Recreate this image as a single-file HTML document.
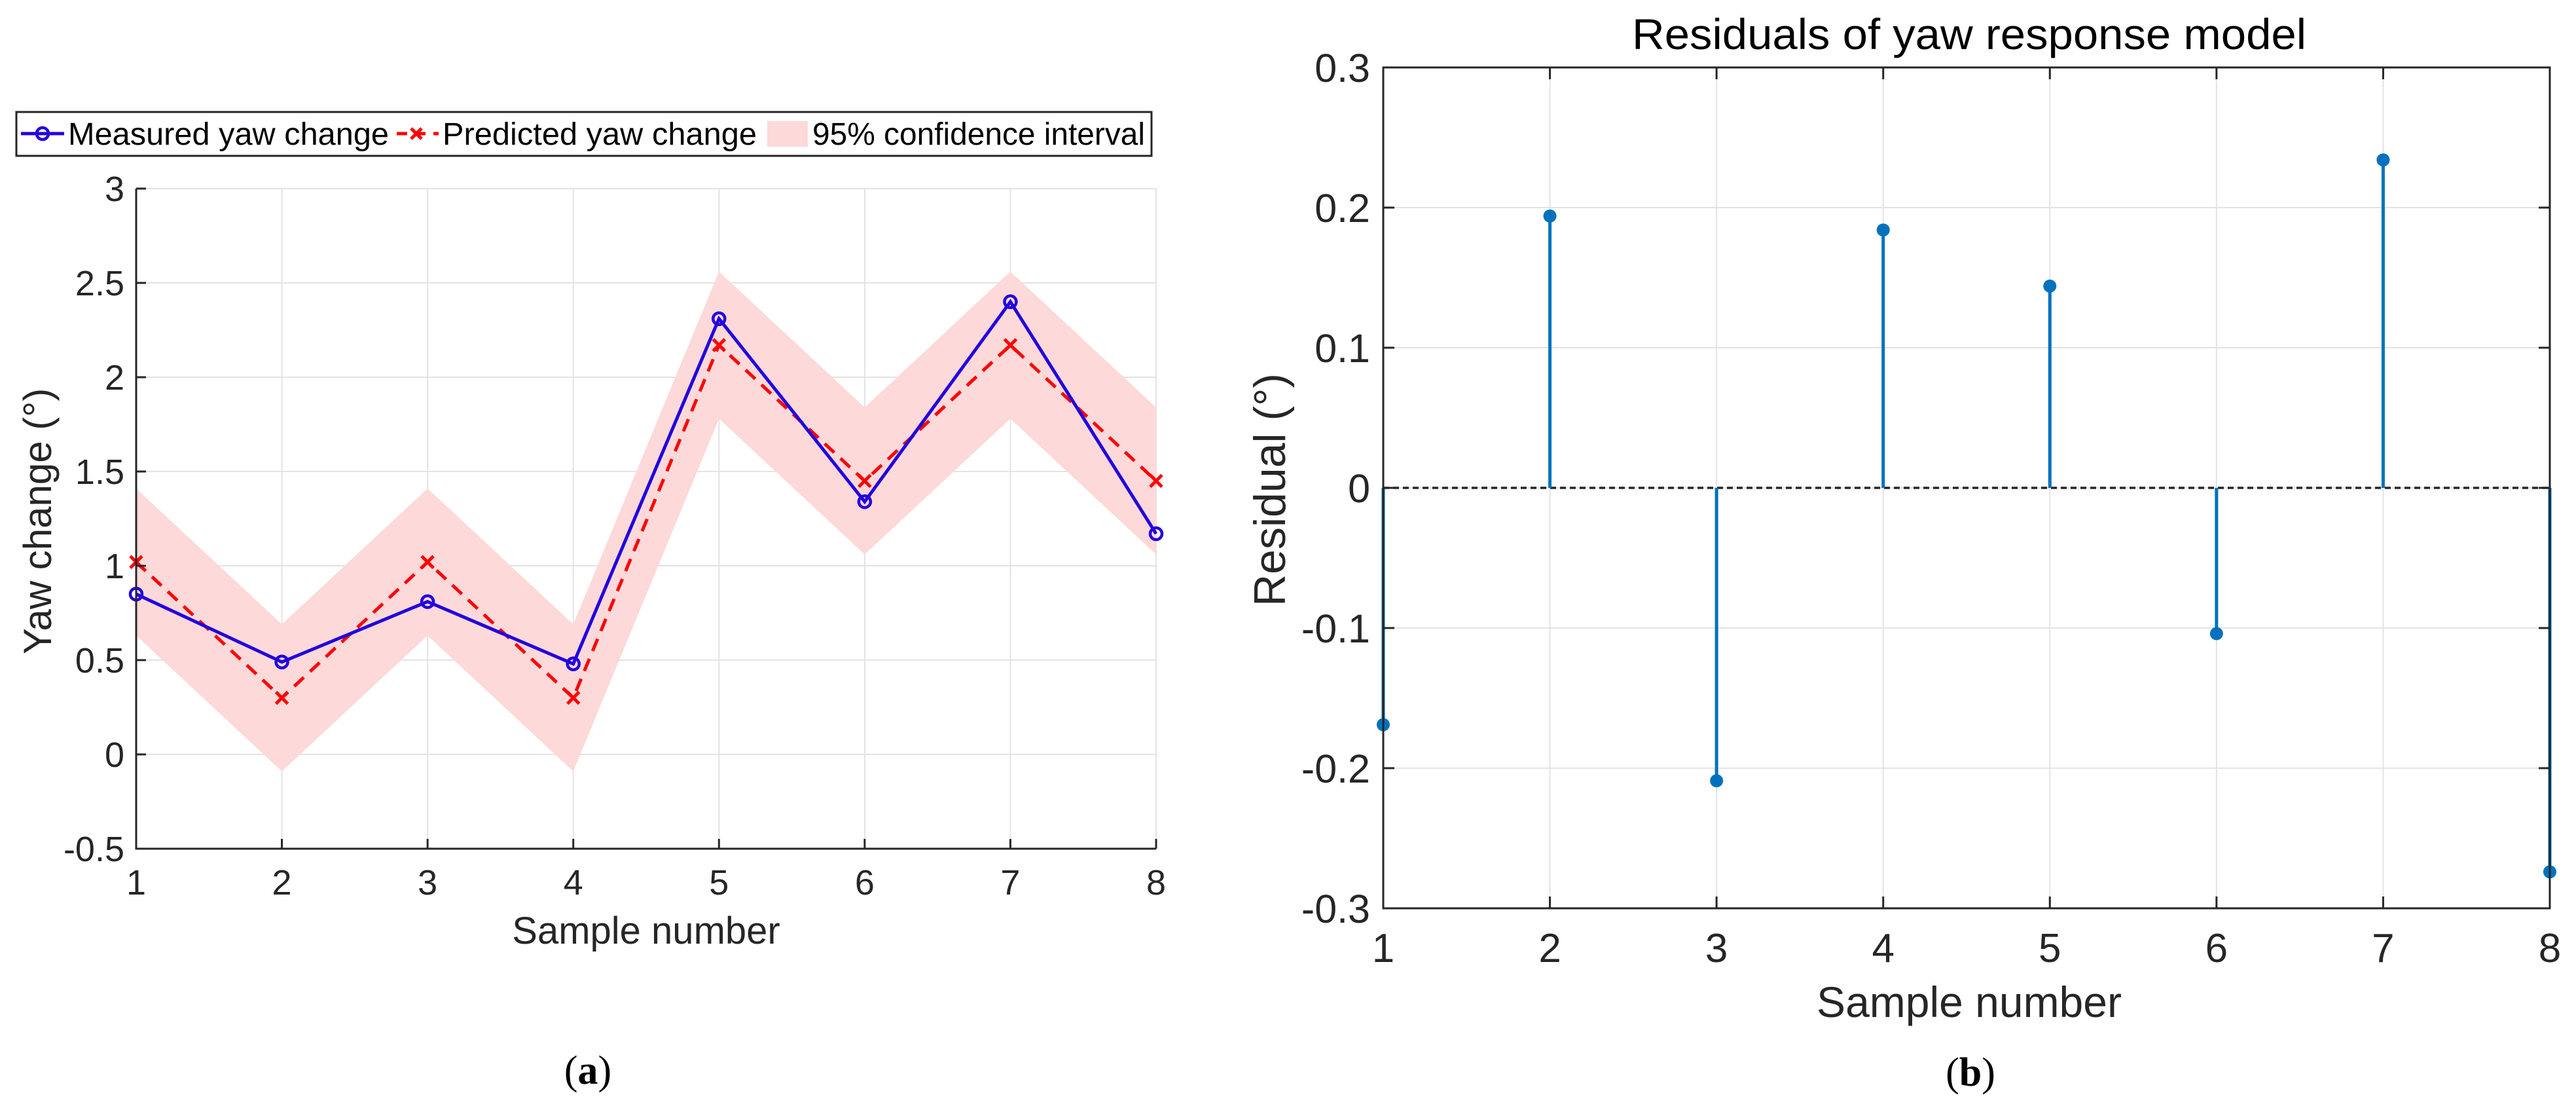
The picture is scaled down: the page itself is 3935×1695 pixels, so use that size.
<!DOCTYPE html>
<html><head><meta charset="utf-8"><style>
html,body{margin:0;padding:0;background:#fff;}
svg{display:block;font-family:"Liberation Sans",Arial,sans-serif;}
</style></head><body>
<svg id="fig" width="3935" height="1695" viewBox="0 0 3935 1695" xmlns="http://www.w3.org/2000/svg">
<g id="left"></g>
<g id="right"></g>
</svg>
<script>
const samples = [1,2,3,4,5,6,7,8];
const measured = [0.85,0.49,0.81,0.48,2.31,1.34,2.40,1.17];
const predicted = [1.02,0.30,1.02,0.30,2.17,1.45,2.17,1.45];
const ciUpper = [1.41,0.69,1.41,0.69,2.56,1.84,2.56,1.84];
const ciLower = [0.63,-0.09,0.63,-0.09,1.78,1.06,1.78,1.06];
const leftYTicks = [-0.5,0,0.5,1,1.5,2,2.5,3];
const leftYTickLabels = ["-0.5","0","0.5","1","1.5","2","2.5","3"];
const residuals = [-0.169,0.194,-0.209,0.184,0.144,-0.104,0.234,-0.274];
const rightYTicks = [-0.3,-0.2,-0.1,0,0.1,0.2,0.3];
const rightYTickLabels = ["-0.3","-0.2","-0.1","0","0.1","0.2","0.3"];

const NS="http://www.w3.org/2000/svg";
function mk(parent,tag,attrs,text){const e=document.createElementNS(NS,tag);for(const k in attrs)e.setAttribute(k,attrs[k]);if(text!==undefined)e.textContent=text;parent.appendChild(e);return e;}

// ---------- Left chart ----------
const L=document.getElementById('left');
const lx0=208,lx1=1766,ly0=288,ly1=1296;
const lX=v=>lx0+(v-1)*(lx1-lx0)/7;
const lY=v=>ly1-(v+0.5)*(ly1-ly0)/3.5;
samples.forEach(s=>{const g=mk(L,'line',{x1:lX(s),x2:lX(s),y1:ly0,y2:ly1,stroke:'#e3e3e3','stroke-width':2});

});
leftYTicks.forEach(t=>{const g=mk(L,'line',{x1:lx0,x2:lx1,y1:lY(t),y2:lY(t),stroke:'#e3e3e3','stroke-width':2});

});
let pts=samples.map((s,i)=>lX(s)+','+lY(ciUpper[i])).concat(samples.slice().reverse().map((s,j)=>{const i=7-j;return lX(s)+','+lY(ciLower[i]);}));
const band=mk(L,'polygon',{points:pts.join(' '),fill:'#fdd9da'});


const pl=mk(L,'polyline',{points:samples.map((s,i)=>lX(s)+','+lY(predicted[i])).join(' '),fill:'none',stroke:'#ff0000','stroke-width':5,'stroke-dasharray':'20,13'});


samples.forEach((s,i)=>{const x=lX(s),y=lY(predicted[i]);const m=mk(L,'path',{d:`M${x-9},${y-9}L${x+9},${y+9}M${x-9},${y+9}L${x+9},${y-9}`,stroke:'#ff0000','stroke-width':5});

});
const ml=mk(L,'polyline',{points:samples.map((s,i)=>lX(s)+','+lY(measured[i])).join(' '),fill:'none',stroke:'#2200dd','stroke-width':5});


samples.forEach((s,i)=>{const m=mk(L,'circle',{cx:lX(s),cy:lY(measured[i]),r:9,fill:'none',stroke:'#2200dd','stroke-width':4.5});

});
const la=mk(L,'path',{d:`M${lx0},${ly0}V${ly1}H${lx1}`,fill:'none',stroke:'#262626','stroke-width':3});


leftYTicks.forEach((t,i)=>{mk(L,'line',{x1:lx0,x2:lx0+15,y1:lY(t),y2:lY(t),stroke:'#262626','stroke-width':3});
const tl=mk(L,'text',{x:190,y:lY(t)+19,'text-anchor':'end','font-size':54,fill:'#262626'},leftYTickLabels[i]);

});
samples.forEach(s=>{mk(L,'line',{x1:lX(s),x2:lX(s),y1:ly1,y2:ly1-15,stroke:'#262626','stroke-width':3});
const tl=mk(L,'text',{x:lX(s),y:1366,'text-anchor':'middle','font-size':54,fill:'#262626'},String(s));

});
let t=mk(L,'text',{x:987,y:1441,'text-anchor':'middle','font-size':58,fill:'#262626'},'Sample number');


t=mk(L,'text',{x:0,y:0,'text-anchor':'middle','font-size':60,fill:'#262626',transform:'translate(78,796) rotate(-90)'},'Yaw change (°)');


t=mk(L,'text',{x:898,y:1655,'text-anchor':'middle','font-size':62,fill:'#000','font-family':'Liberation Serif, serif'},'');
t.innerHTML='(<tspan font-weight="bold">a</tspan>)';


const lg=mk(L,'g',{});


mk(lg,'rect',{x:25,y:171,width:1734,height:67,fill:'#fff',stroke:'#262626','stroke-width':3});
mk(lg,'line',{x1:32,x2:98,y1:204,y2:204,stroke:'#2200dd','stroke-width':5});
mk(lg,'circle',{cx:65,cy:204,r:9,fill:'none',stroke:'#2200dd','stroke-width':4.5});
t=mk(lg,'text',{x:104,y:221,'font-size':48,fill:'#000',textLength:490,lengthAdjust:'spacingAndGlyphs'},'Measured yaw change');


mk(lg,'line',{x1:606,x2:670,y1:204,y2:204,stroke:'#ff0000','stroke-width':5,'stroke-dasharray':'16,12'});
mk(lg,'path',{d:'M628,196L644,212M628,212L644,196',stroke:'#ff0000','stroke-width':5});
t=mk(lg,'text',{x:676,y:221,'font-size':48,fill:'#000',textLength:480,lengthAdjust:'spacingAndGlyphs'},'Predicted yaw change');


mk(lg,'rect',{x:1172,y:185,width:62,height:39,fill:'#fdd9da'});
t=mk(lg,'text',{x:1241,y:221,'font-size':48,fill:'#000',textLength:508,lengthAdjust:'spacingAndGlyphs'},'95% confidence interval');



// ---------- Right chart ----------
const R=document.getElementById('right');
const rx0=2113,rx1=3895,ry0=103,ry1=1387;
const rX=v=>rx0+(v-1)*(rx1-rx0)/7;
const rY=v=>ry1-(v+0.3)*(ry1-ry0)/0.6;
samples.forEach(s=>{const g=mk(R,'line',{x1:rX(s),x2:rX(s),y1:ry0,y2:ry1,stroke:'#e3e3e3','stroke-width':2});

});
rightYTicks.forEach(v=>{const g=mk(R,'line',{x1:rx0,x2:rx1,y1:rY(v),y2:rY(v),stroke:'#e3e3e3','stroke-width':2});

});
const zl=mk(R,'line',{x1:rx0,x2:rx1,y1:rY(0),y2:rY(0),stroke:'#262626','stroke-width':3.5,'stroke-dasharray':'9,6'});


samples.forEach((s,i)=>{const st=mk(R,'line',{x1:rX(s),x2:rX(s),y1:rY(0),y2:rY(residuals[i]),stroke:'#0072bd','stroke-width':5});


const m=mk(R,'circle',{cx:rX(s),cy:rY(residuals[i]),r:10,fill:'#0072bd'});

});
const ra=mk(R,'rect',{x:rx0,y:ry0,width:rx1-rx0,height:ry1-ry0,fill:'none',stroke:'#262626','stroke-width':3});


rightYTicks.forEach((v,i)=>{mk(R,'line',{x1:rx0,x2:rx0+17,y1:rY(v),y2:rY(v),stroke:'#262626','stroke-width':3});
mk(R,'line',{x1:rx1,x2:rx1-17,y1:rY(v),y2:rY(v),stroke:'#262626','stroke-width':3});
const tl=mk(R,'text',{x:2093,y:rY(v)+22,'text-anchor':'end','font-size':61,fill:'#262626'},rightYTickLabels[i]);

});
samples.forEach(s=>{mk(R,'line',{x1:rX(s),x2:rX(s),y1:ry1,y2:ry1-18,stroke:'#262626','stroke-width':3});
mk(R,'line',{x1:rX(s),x2:rX(s),y1:ry0,y2:ry0+18,stroke:'#262626','stroke-width':3});
const tl=mk(R,'text',{x:rX(s),y:1469,'text-anchor':'middle','font-size':62,fill:'#262626'},String(s));

});
t=mk(R,'text',{x:3008,y:1553,'text-anchor':'middle','font-size':66,fill:'#262626'},'Sample number');


t=mk(R,'text',{x:0,y:0,'text-anchor':'middle','font-size':68,fill:'#262626',transform:'translate(1963,748) rotate(-90)'},'Residual (°)');


t=mk(R,'text',{x:3008,y:75,'text-anchor':'middle','font-size':66,fill:'#000',textLength:1030,lengthAdjust:'spacingAndGlyphs'},'Residuals of yaw response model');


t=mk(R,'text',{x:3010,y:1658,'text-anchor':'middle','font-size':62,fill:'#000','font-family':'Liberation Serif, serif'},'');
t.innerHTML='(<tspan font-weight="bold">b</tspan>)';


</script>
</body></html>
